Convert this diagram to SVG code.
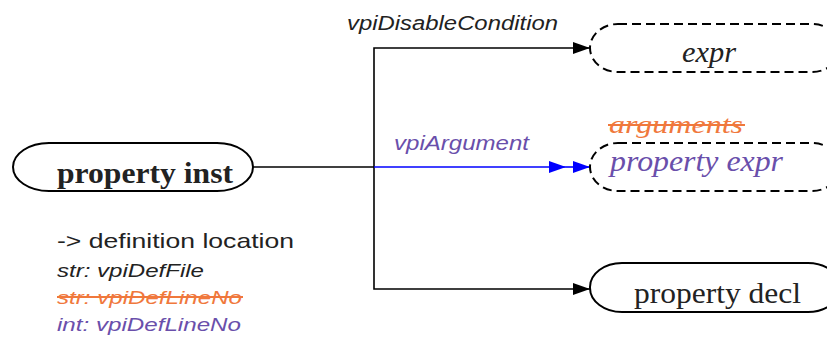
<svg xmlns="http://www.w3.org/2000/svg" width="827" height="338" viewBox="0 0 827 338">
<style>
.node{fill:#fff;stroke:#000;stroke-width:2}
.dash{stroke-dasharray:9,5}
.serif{font-family:"Liberation Serif","Times New Roman",serif}
.sans{font-family:"Liberation Sans",Arial,sans-serif}
.purple{fill:#6a4fab}
.orange{fill:#f0783c}
.conn{fill:none;stroke:#000;stroke-width:1.6}
.blue{stroke:#0000ff}
</style>
<defs>
<marker id="ab" markerWidth="18" markerHeight="12" refX="17" refY="6" orient="auto" markerUnits="userSpaceOnUse">
<path d="M0,0 L17,6 L0,12 z" fill="#000"/>
</marker>
<marker id="abb" markerWidth="18" markerHeight="12" refX="17" refY="6" orient="auto" markerUnits="userSpaceOnUse">
<path d="M0,0 L17,6 L0,12 z" fill="#0000ff"/>
</marker>
</defs>
<g id="connectors">
<path class="conn" d="M253,167 H374"/>
<path class="conn" d="M374,167 V48 H590" marker-end="url(#ab)"/>
<path class="conn" d="M374,167 V289 H590" marker-end="url(#ab)"/>
<path class="conn blue" d="M374,167 H566" marker-end="url(#abb)"/>
<path class="conn blue" d="M566,167 H590" marker-end="url(#abb)"/>
<text class="sans" x="347" y="30" font-size="20" font-style="italic" fill="#222" textLength="211" lengthAdjust="spacingAndGlyphs">vpiDisableCondition</text>
<text class="sans purple" x="394" y="150" font-size="20" font-style="italic" textLength="135" lengthAdjust="spacingAndGlyphs">vpiArgument</text>
</g>
<g id="property_inst">
<rect class="node" x="13" y="143" width="240" height="48" rx="36" ry="24"/>
<text class="serif" x="57" y="183" font-size="29" font-weight="bold" fill="#222" textLength="176" lengthAdjust="spacingAndGlyphs">property inst</text>
</g>
<g id="expr">
<rect class="node dash" x="590" y="24" width="250" height="48" rx="28" ry="24"/>
<text class="serif" x="682" y="62" font-size="29" font-style="italic" fill="#222" textLength="54" lengthAdjust="spacingAndGlyphs">expr</text>
</g>
<g id="property_expr">
<text class="serif orange" x="609" y="133" font-size="26" font-style="italic" textLength="134" lengthAdjust="spacingAndGlyphs">arguments</text>
<line x1="608" y1="125" x2="745" y2="125" stroke="#f0783c" stroke-width="2"/>
<rect class="node dash" x="590" y="143" width="250" height="48" rx="28" ry="24"/>
<text class="serif purple" x="610" y="171" font-size="29" font-style="italic" textLength="173" lengthAdjust="spacingAndGlyphs">property expr</text>
</g>
<g id="property_decl">
<rect class="node" x="590" y="263" width="250" height="49" rx="32" ry="24"/>
<text class="serif" x="634" y="303" font-size="29" fill="#222" textLength="167" lengthAdjust="spacingAndGlyphs">property decl</text>
</g>
<g id="notes">
<text class="sans" x="57" y="248" font-size="21" fill="#222" textLength="237" lengthAdjust="spacingAndGlyphs">-&gt; definition location</text>
<text class="sans" x="57" y="277" font-size="19" font-style="italic" fill="#222" textLength="147" lengthAdjust="spacingAndGlyphs">str: vpiDefFile</text>
<text class="sans orange" x="57" y="304" font-size="19" font-style="italic" textLength="185" lengthAdjust="spacingAndGlyphs">str: vpiDefLineNo</text>
<line x1="57" y1="297" x2="243" y2="297" stroke="#f0783c" stroke-width="2"/>
<text class="sans purple" x="57" y="331" font-size="19" font-style="italic" textLength="184" lengthAdjust="spacingAndGlyphs">int: vpiDefLineNo</text>
</g>
</svg>
